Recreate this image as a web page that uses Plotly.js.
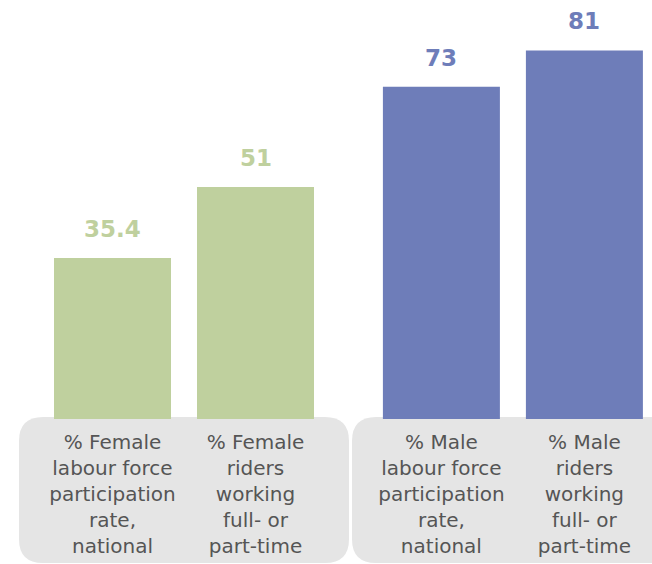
<!DOCTYPE html>
<html>
<head>
<meta charset="utf-8">
<script src="https://cdn.plot.ly/plotly-3.0.1.min.js"></script>
<style>
html,body{margin:0;padding:0;background:#fff;}
#chart{width:652px;height:564px;}
</style>
</head>
<body>
<div id="chart"></div>
<script>
// ---- data ----
var categories = [
  "% Female<br>labour force<br>participation<br>rate,<br>national",
  "% Female<br>riders<br>working<br>full- or<br>part-time",
  "% Male<br>labour force<br>participation<br>rate,<br>national",
  "% Male<br>riders<br>working<br>full- or<br>part-time"
];
var values = [35.4, 51, 73, 81];
var valueLabels = ["35.4", "51", "73", "81"];
var groups = ["female", "female", "male", "male"];

// ---- styling ----
var groupColor = {female: "#bfd09e", male: "#6e7db9"};
var W = 652, H = 564;
var plotBottom = 419;           // pixel row of the zero line
var unitPx = 143;               // pixels between neighbouring bars
var firstCenter = 112.5;        // pixel centre of first bar
var groupGap = 0.3;             // extra gap between the two groups (in bar units)

var xs = categories.map(function(c, i){ return i + (i >= 2 ? groupGap : 0); });
var colors = groups.map(function(g){ return groupColor[g]; });

var trace = {
  type: "bar",
  x: xs,
  y: values,
  width: 117 / unitPx,
  marker: {color: colors, line: {width: 0}},
  hoverinfo: "skip"
};

var annotations = xs.map(function(x, i){
  return {
    x: x, y: values[i], xref: "x", yref: "y",
    text: valueLabels[i],
    showarrow: false,
    yanchor: "bottom",
    yshift: 14,
    font: {family: "DejaVu Sans", size: 23, color: colors[i], weight: "bold"}
  };
});

function py(p){ return (plotBottom - p) / plotBottom; } // pixel row -> paper y
function px(p){ return p / W; }                          // pixel col -> paper x

function roundedBox(x0, x1, y0, y1, r){
  return "M " + px(x0 + r) + "," + py(y0) +
    " L " + px(x1 - r) + "," + py(y0) +
    " Q " + px(x1) + "," + py(y0) + " " + px(x1) + "," + py(y0 + r) +
    " L " + px(x1) + "," + py(y1 - r) +
    " Q " + px(x1) + "," + py(y1) + " " + px(x1 - r) + "," + py(y1) +
    " L " + px(x0 + r) + "," + py(y1) +
    " Q " + px(x0) + "," + py(y1) + " " + px(x0) + "," + py(y1 - r) +
    " L " + px(x0) + "," + py(y0 + r) +
    " Q " + px(x0) + "," + py(y0) + " " + px(x0 + r) + "," + py(y0) + " Z";
}

var shapes = [
  {type: "path", xref: "paper", yref: "paper", layer: "below",
   path: roundedBox(19, 349, 417, 563, 24), fillcolor: "#e5e5e5", line: {width: 0}},
  {type: "path", xref: "paper", yref: "paper", layer: "below",
   path: roundedBox(352, 690, 417, 563, 24), fillcolor: "#e5e5e5", line: {width: 0}}
];

var layout = {
  width: W, height: H,
  margin: {l: 0, r: 0, t: 0, b: H - plotBottom, pad: 0},
  paper_bgcolor: "#ffffff",
  plot_bgcolor: "rgba(0,0,0,0)",
  showlegend: false,
  xaxis: {
    range: [-firstCenter / unitPx, (W - firstCenter) / unitPx],
    tickmode: "array",
    tickvals: xs,
    ticktext: categories,
    ticks: "",
    ticklabelstandoff: 9,
    showgrid: false, zeroline: false, showline: false,
    tickfont: {family: "DejaVu Sans", size: 20, color: "#555555"},
    fixedrange: true
  },
  yaxis: {
    range: [0, plotBottom / 4.55],
    visible: false,
    showgrid: false, zeroline: false,
    fixedrange: true
  },
  shapes: shapes,
  annotations: annotations
};

Plotly.newPlot("chart", [trace], layout, {displayModeBar: false, staticPlot: true});
</script>
</body>
</html>
